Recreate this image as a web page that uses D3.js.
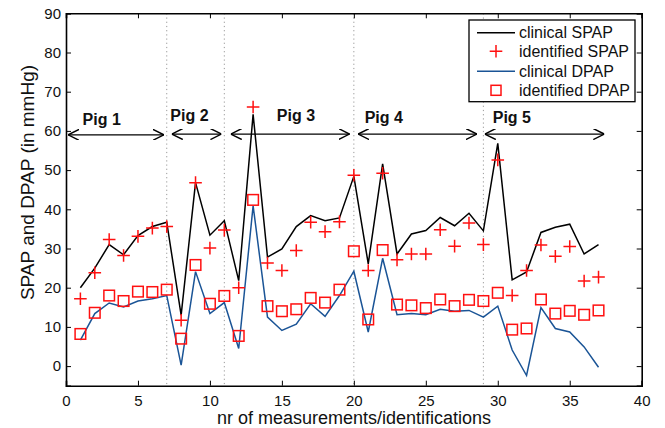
<!DOCTYPE html>
<html>
<head>
<meta charset="utf-8">
<script src="https://cdn.jsdelivr.net/npm/d3@7"></script>
<style>
  body { margin: 0; background: #fff; }
  svg { display: block; font-family: "Liberation Sans", Arial, Helvetica, sans-serif; }
</style>
</head>
<body>
<svg id="chart" width="665" height="428"></svg>
<script>
// Measurement index 1..37
const measurement = d3.range(1, 38);

const clinicalSPAP = [20, 25, 31, 28.4, 33.3, 35.6, 36.7, 13, 46.8, 33.4, 37.1, 21.8, 64.2, 27.8, 29.9, 35.6, 38.4, 37.1, 37.8, 48.4,
  26.1, 51.6, 28.6, 33.7, 34.6, 37.9, 35.8, 39, 34.5, 56.8, 22, 24, 34.1, 35.4, 36.2, 28.6, 31];
const identifiedSPAP = [17.2, 23.8, 32.3, 28.2, 33.1, 35.2, 35.6, 11.7, 46.8, 30.1, 34.7, 20, 66.1, 26.3, 24.4, 29.5, 36.7, 34.3, 36.8, 48.7,
  24.4, 49.2, 27.1, 28.6, 28.6, 34.8, 30.6, 36.5, 31, 52.6, 18, 24.4, 30.9, 28, 30.5, 21.7, 22.7];
const clinicalDPAP = [6.6, 13.4, 16.1, 15.1, 16.6, 17.2, 18, 0.25, 24.1, 13.4, 16.2, 4.5, 40.9, 12.5, 9.1, 10.7, 15.9, 12.7, 18, 24.2,
  8.7, 27.5, 13.1, 13.4, 13.1, 14.5, 14, 14.2, 12.5, 15.3, 4.1, -2.4, 14.9, 9.6, 8.7, 4.9, -0.3];
const identifiedDPAP = [8.2, 13.6, 18, 16.6, 19, 18.9, 19.5, 7, 25.8, 15.9, 17.9, 7.7, 42.4, 15.3, 14, 14.5, 17.4, 16.2, 19.5, 29.3,
  11.9, 29.6, 15.7, 15.5, 14.8, 17, 15.3, 16.9, 16.6, 18.7, 9.3, 9.6, 17, 13.4, 14.1, 13.1, 14.2];

// Animal boundaries and spans
const pigNames = ["Pig 1", "Pig 2", "Pig 3", "Pig 4", "Pig 5"];
const pigStart = [0.15, 7.35, 11.45, 20.3, 29.1];
const pigEnd = [6.8, 10.8, 19.7, 28.55, 37.4];
const pigLabelX = [1.15, 7.25, 14.65, 20.75, 29.65];
const pigLabelY = [61.6, 62.5, 62.5, 62.1, 62.1];
const pigArrowY = [59, 59.2, 59.2, 59.2, 59.2];
const boundaries = [7, 11, 20, 29];

const xTicks = [0, 5, 10, 15, 20, 25, 30, 35, 40];
const yTicks = [0, 10, 20, 30, 40, 50, 60, 70, 80, 90];

const legendLabels = ["clinical SPAP", "identified SPAP", "clinical DPAP", "identified DPAP"];

const RED = "#ff1010";
const BLUE = "#1a5496";

const svg = d3.select("#chart");
const plotLeft = 66, plotRight = 641.7, plotTop = 13.3, plotBottom = 385.7;

const x = d3.scaleLinear().domain([0, 40]).range([plotLeft, plotRight]);
const y = d3.scaleLinear().domain([-5, 90]).range([plotBottom, plotTop]);

// arrow markers
const defs = svg.append("defs");
["start", "end"].forEach(k => {
  defs.append("marker")
    .attr("id", "arrow-" + k)
    .attr("viewBox", "0 0 10 10")
    .attr("refX", k === "end" ? 10 : 0).attr("refY", 5)
    .attr("markerWidth", 11).attr("markerHeight", 11)
    .attr("markerUnits", "userSpaceOnUse")
    .attr("orient", "auto")
    .append("path")
    .attr("d", k === "end" ? "M0,0 L10,5 L0,10" : "M10,0 L0,5 L10,10")
    .attr("fill", "none").attr("stroke", "#000").attr("stroke-width", 1.3);
});

// boundary lines between animals
svg.append("g").selectAll("line").data(boundaries).join("line")
  .attr("x1", d => x(d)).attr("x2", d => x(d))
  .attr("y1", plotTop).attr("y2", plotBottom)
  .attr("stroke", "#999").attr("stroke-width", 1)
  .attr("stroke-dasharray", "1.2,3");

// axes
const tickLen = 5;
const axB = svg.append("g").attr("transform", `translate(0,${plotBottom})`)
  .call(d3.axisBottom(x).tickValues(xTicks).tickSize(-tickLen).tickPadding(10).tickFormat(d3.format("d")));
const axT = svg.append("g").attr("transform", `translate(0,${plotTop})`)
  .call(d3.axisTop(x).tickValues(xTicks).tickSize(-tickLen).tickFormat(""));
const axL = svg.append("g").attr("transform", `translate(${plotLeft},0)`)
  .call(d3.axisLeft(y).tickValues(yTicks).tickSize(-tickLen).tickPadding(5).tickFormat(d3.format("d")));
const axR = svg.append("g").attr("transform", `translate(${plotRight},0)`)
  .call(d3.axisRight(y).tickValues(yTicks).tickSize(-tickLen).tickFormat(""));
[axB, axT, axL, axR].forEach(g => {
  g.select(".domain").attr("stroke", "#000").attr("stroke-width", 1.6);
  g.selectAll(".tick line").attr("stroke", "#000").attr("stroke-width", 1);
  g.selectAll(".tick text").attr("font-size", 15).attr("fill", "#111")
    .attr("font-family", "Liberation Sans, Arial, sans-serif");
});

// axis titles
svg.append("text")
  .attr("x", 354).attr("y", 424.3)
  .attr("text-anchor", "middle").attr("font-size", 18).attr("fill", "#111")
  .text("nr of measurements/identifications");
svg.append("text")
  .attr("transform", "translate(33.5,182.5) rotate(-90)")
  .attr("text-anchor", "middle").attr("font-size", 19).attr("fill", "#111")
  .text("SPAP and DPAP (in mmHg)");

// lines
const line = d3.line().x((d, i) => x(measurement[i])).y(d => y(d));
svg.append("path").datum(clinicalSPAP).attr("d", line)
  .attr("fill", "none").attr("stroke", "#000").attr("stroke-width", 1.5);
svg.append("path").datum(clinicalDPAP).attr("d", line)
  .attr("fill", "none").attr("stroke", BLUE).attr("stroke-width", 1.5);

// identified SPAP: plus markers
const plusSize = 6.3;
svg.append("g").selectAll("path").data(identifiedSPAP).join("path")
  .attr("transform", (d, i) => `translate(${x(measurement[i])},${y(d)})`)
  .attr("d", `M${-plusSize},0H${plusSize}M0,${-plusSize}V${plusSize}`)
  .attr("stroke", RED).attr("stroke-width", 1.5).attr("fill", "none");

// identified DPAP: square markers
const sq = 5.3;
svg.append("g").selectAll("rect").data(identifiedDPAP).join("rect")
  .attr("x", (d, i) => x(measurement[i]) - sq).attr("y", d => y(d) - sq)
  .attr("width", sq * 2).attr("height", sq * 2)
  .attr("stroke", RED).attr("stroke-width", 1.5).attr("fill", "none");

// animal spans
const pig = svg.append("g");
pigNames.forEach((name, i) => {
  pig.append("line")
    .attr("x1", x(pigStart[i])).attr("x2", x(pigEnd[i]))
    .attr("y1", y(pigArrowY[i])).attr("y2", y(pigArrowY[i]))
    .attr("stroke", "#000").attr("stroke-width", 1.3)
    .attr("marker-start", "url(#arrow-start)").attr("marker-end", "url(#arrow-end)");
  pig.append("text")
    .attr("x", x(pigLabelX[i])).attr("y", y(pigLabelY[i]))
    .attr("font-size", 16).attr("font-weight", "bold").attr("fill", "#111")
    .text(name);
});

// legend
const lg = svg.append("g").attr("transform", "translate(469,20)");
lg.append("rect").attr("width", 166).attr("height", 81.7)
  .attr("fill", "#fff").attr("stroke", "#000").attr("stroke-width", 1.3);
const rowY = [12.7, 31.3, 51.3, 70.3];
legendLabels.forEach((lab, i) => {
  const ry = rowY[i];
  const cx = 27;
  if (i === 0 || i === 2) {
    lg.append("line").attr("x1", 8).attr("x2", 46).attr("y1", ry).attr("y2", ry)
      .attr("stroke", i === 0 ? "#000" : BLUE).attr("stroke-width", 1.5);
  } else if (i === 1) {
    lg.append("path").attr("transform", `translate(${cx},${ry})`)
      .attr("d", `M${-plusSize},0H${plusSize}M0,${-plusSize}V${plusSize}`)
      .attr("stroke", RED).attr("stroke-width", 1.5);
  } else {
    lg.append("rect").attr("x", cx - 5).attr("y", ry - 5).attr("width", 10).attr("height", 10)
      .attr("stroke", RED).attr("stroke-width", 1.5).attr("fill", "none");
  }
  lg.append("text").attr("x", 50).attr("y", ry).attr("dy", "0.36em")
    .attr("font-size", 16).attr("fill", "#111").text(lab);
});
</script>
</body>
</html>
